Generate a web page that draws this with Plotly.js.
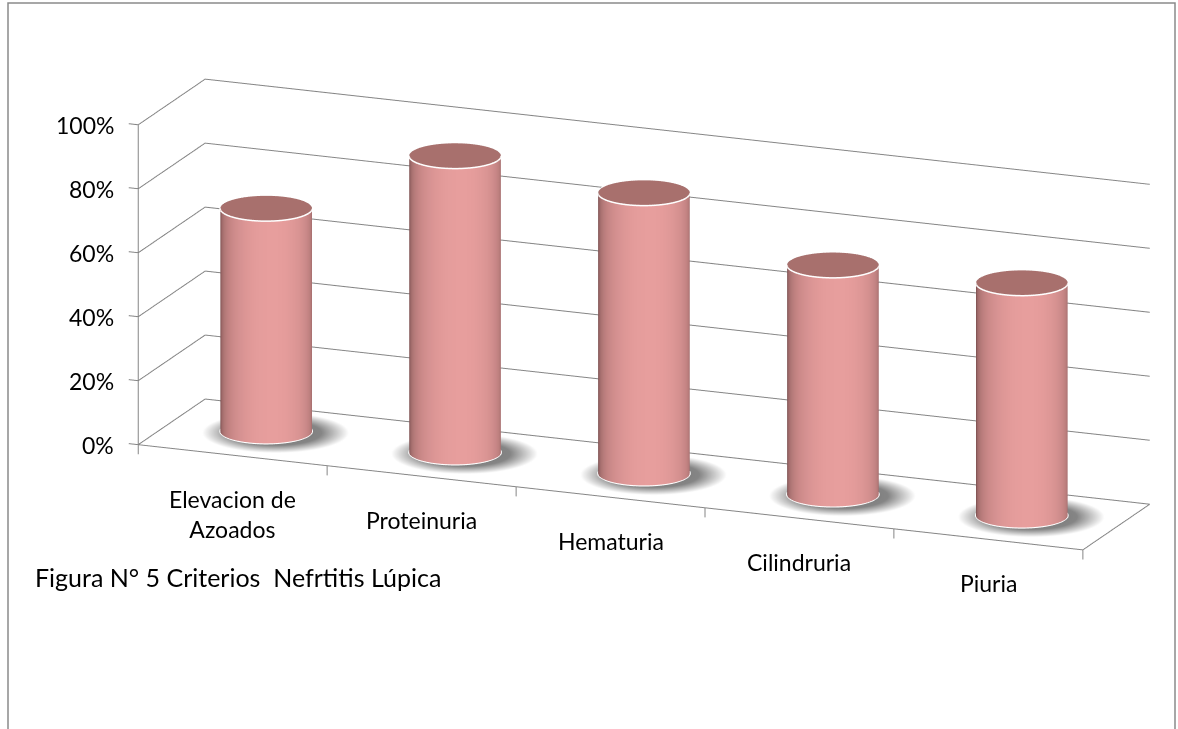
<!DOCTYPE html>
<html><head><meta charset="utf-8">
<script src="https://cdn.plot.ly/plotly-3.0.1.min.js"></script>
<style>html,body{margin:0;padding:0;background:#fff}#chart{width:1178px;height:729px}</style>
</head><body><div id="chart"></div>
<script>
const categories = ['Elevacion de<br>Azoados', 'Proteinuria', 'Hematuria', 'Cilindruria', 'Piuria'];
const values = [0.70, 0.93, 0.88, 0.72, 0.73];
const valueTicks = [0, 0.2, 0.4, 0.6, 0.8, 1.0];
const valueTickText = ['0%', '20%', '40%', '60%', '80%', '100%'];
const chartTitle = 'Figura N° 5 Criterios  Nefrtitis Lúpica';

const FONT = 'Lato, "Open Sans", sans-serif';
const R = 0.225;           // cylinder radius, category units
const N = 72;
const xMin = -0.5, xMax = categories.length - 0.5;
const yMin = -1, yMax = 1;
const zMin = 0, zMax = 1;
// scene ranges padded slightly so lines on the box edges / tick marks are not clipped
const sceneX = [xMin - 0.1, xMax + 0.1], sceneY = [yMin - 0.05, yMax + 0.05], sceneZ = [zMin - 0.05, zMax + 0.02];
const perX = 0.559, perY = 0.245, perZ = 0.913;   // normalized size per data unit
const asp = {x: perX * (sceneX[1] - sceneX[0]), y: perY * (sceneY[1] - sceneY[0]), z: perZ * (sceneZ[1] - sceneZ[0])};
const RY = R * perX / perY;

// camera geometry (yaw to the right, pitch down), orthographic: 364.5 px per normalized unit
const yaw = 22 * Math.PI / 180, pitch = 16 * Math.PI / 180, camDist = 2.25;
const dir = [Math.sin(yaw) * Math.cos(pitch), -Math.cos(yaw) * Math.cos(pitch), Math.sin(pitch)];
const rgt = [Math.cos(yaw), Math.sin(yaw), 0];
const upv = [-Math.sin(pitch) * Math.sin(yaw), Math.sin(pitch) * Math.cos(yaw), Math.cos(pitch)];
const PX = 364.5, shiftR = 55, shiftU = 50;
const Pn = [0, 0, (0.5 - (sceneZ[0] + sceneZ[1]) / 2) * perZ];
const cen = [0, 1, 2].map(k => Pn[k] - (shiftR / PX) * rgt[k] - (shiftU / PX) * upv[k]);
const eye = [0, 1, 2].map(k => cen[k] + dir[k] * camDist);

// shading of cylinder side: depends on angle to the viewer (horizontal)
const dark = [118, 76, 76], light = [231, 158, 157];
const vh = [Math.sin(yaw + 0.12), -Math.cos(yaw + 0.12)];
function shade(a) {
  const t = Math.max(0, Math.cos(a) * vh[0] + Math.sin(a) * vh[1]);
  const b = Math.pow(t, 0.55);
  return 'rgb(' + [0, 1, 2].map(k => Math.round(dark[k] + (light[k] - dark[k]) * b)).join(',') + ')';
}

const flat = {ambient: 1, diffuse: 0, specular: 0, fresnel: 0, roughness: 1};
const traces = [];

// frame lines: gridlines on back and left walls, floor edges, value axis, tick marks
const GRID = '#858585';
function seg(p, q, w) {
  traces.push({type: 'scatter3d', mode: 'lines', x: [p[0], q[0]], y: [p[1], q[1]], z: [p[2], q[2]],
    line: {color: GRID, width: w || 2}, hoverinfo: 'skip', showlegend: false});
}
valueTicks.forEach(t => {
  seg([xMin, yMax, t], [xMax, yMax, t]);
  seg([xMin, yMin, t], [xMin, yMax, t]);
  seg([xMin, yMin, t], [xMin - 0.05, yMin, t]);
});
seg([xMin, yMin, zMin], [xMin, yMin, zMax]);
seg([xMin, yMin, zMin], [xMax, yMin, zMin]);
seg([xMax, yMin, zMin], [xMax, yMax, zMin]);
for (let b = 0; b <= categories.length; b++) seg([xMin + b, yMin, 0], [xMin + b, yMin, -0.03]);

values.forEach((v, i) => {
  // shadow disc
  {
    const cx = i + 0.05;
    const x = [cx], y = [0], z = [0.002], inten = [1], I = [], J = [], K = [];
    const rings = [[1.0, 0.85], [1.6, 0]];
    rings.forEach(([s, t]) => {
      for (let k = 0; k < N; k++) {
        const a = 2 * Math.PI * k / N;
        x.push(cx + s * R * Math.cos(a)); y.push(s * RY * Math.sin(a)); z.push(0.002); inten.push(t);
      }
    });
    for (let k = 0; k < N; k++) {
      const k2 = (k + 1) % N;
      I.push(0); J.push(1 + k); K.push(1 + k2);
      I.push(1 + k, 1 + k2); J.push(1 + N + k, 1 + N + k); K.push(1 + k2, 1 + N + k2);
    }
    traces.push({type: 'mesh3d', x, y, z, i: I, j: J, k: K, intensity: inten,
      colorscale: [[0, '#ffffff'], [1, '#707070']], cmin: 0, cmax: 1, showscale: false,
      lighting: flat, hoverinfo: 'skip'});
  }
  // side
  {
    const x = [], y = [], z = [], I = [], J = [], K = [], vc = [];
    for (let k = 0; k <= N; k++) {
      const a = 2 * Math.PI * k / N;
      x.push(i + R * Math.cos(a), i + R * Math.cos(a));
      y.push(RY * Math.sin(a), RY * Math.sin(a));
      z.push(0, v);
      const c = shade(a); vc.push(c, c);
    }
    for (let k = 0; k < N; k++) {
      const b = 2 * k;
      I.push(b, b + 1); J.push(b + 2, b + 2); K.push(b + 1, b + 3);
    }
    traces.push({type: 'mesh3d', x, y, z, i: I, j: J, k: K, vertexcolor: vc,
      lighting: flat, hoverinfo: 'skip'});
  }
  // top cap
  {
    const x = [i], y = [0], z = [v], I = [], J = [], K = [];
    for (let k = 0; k < N; k++) {
      const a = 2 * Math.PI * k / N;
      x.push(i + R * Math.cos(a)); y.push(RY * Math.sin(a)); z.push(v);
    }
    for (let k = 0; k < N; k++) { I.push(0); J.push(1 + k); K.push(1 + (k + 1) % N); }
    traces.push({type: 'mesh3d', x, y, z, i: I, j: J, k: K, color: '#A8706D',
      lighting: flat, hoverinfo: 'skip'});
  }
  // rims
  [v, 0.003].forEach(h => {
    const x = [], y = [], z = [];
    for (let k = 0; k <= N; k++) {
      const a = 2 * Math.PI * k / N;
      x.push(i + R * 1.005 * Math.cos(a)); y.push(RY * 1.005 * Math.sin(a)); z.push(h);
    }
    traces.push({type: 'scatter3d', mode: 'lines', x, y, z,
      line: {color: '#ffffff', width: 3}, hoverinfo: 'skip', showlegend: false});
  });
});

const hidden = {showbackground: false, showspikes: false, zeroline: false, title: {text: ''},
  showgrid: false, showline: false, ticks: '', showticklabels: false};
const catAnn = categories.map((c, i) => ({x: i, y: yMin, z: 0, text: c, showarrow: false,
  yanchor: 'top', yshift: -28, font: {family: FONT, size: 23, color: '#000'}}));
const valAnn = valueTicks.map((t, k) => ({x: xMin, y: yMin, z: t, text: valueTickText[k], showarrow: false,
  xanchor: 'right', xshift: -22, font: {family: FONT, size: 23, color: '#000'}}));

const layout = {
  width: 1178, height: 729,
  margin: {l: 0, r: 0, t: 0, b: 0},
  paper_bgcolor: '#ffffff',
  showlegend: false,
  title: {text: chartTitle, x: 35 / 1178, xanchor: 'left', y: 1 - 578 / 729, yanchor: 'middle', yref: 'container',
    font: {family: FONT, size: 25, color: '#000'}},
  shapes: [{type: 'rect', xref: 'paper', yref: 'paper', x0: 8 / 1178, x1: 1175 / 1178, y0: -0.2, y1: 1 - 3 / 729,
    line: {color: '#8a8a8a', width: 1.5}, fillcolor: 'rgba(0,0,0,0)'}],
  scene: {
    domain: {x: [0, 1], y: [0, 1]},
    aspectmode: 'manual', aspectratio: asp,
    camera: {
      projection: {type: 'orthographic'},
      eye: {x: eye[0], y: eye[1], z: eye[2]},
      center: {x: cen[0], y: cen[1], z: cen[2]},
      up: {x: 0, y: 0, z: 1}
    },
    xaxis: Object.assign({}, hidden, {range: sceneX}),
    yaxis: Object.assign({}, hidden, {range: sceneY}),
    zaxis: Object.assign({}, hidden, {range: sceneZ}),
    annotations: catAnn.concat(valAnn)
  }
};
Plotly.newPlot('chart', traces, layout, {displayModeBar: false});
</script></body></html>
